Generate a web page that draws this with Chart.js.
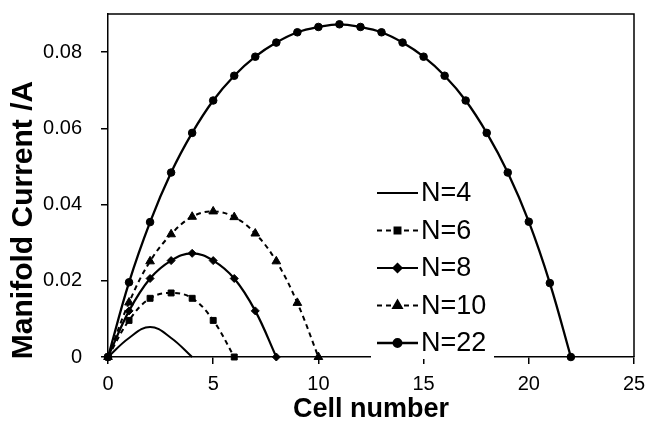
<!DOCTYPE html>
<html>
<head>
<meta charset="utf-8">
<script src="https://cdn.jsdelivr.net/npm/chart.js@4"></script>
<style>
  html, body { margin: 0; padding: 0; background: #fff; }
  #wrap { width: 645px; height: 422px; position: relative; }
</style>
</head>
<body>
<div id="wrap"><canvas id="chart"></canvas></div>
<script>
// values (current in A, index = cell number)
const seriesNames = ['N=4', 'N=6', 'N=8', 'N=10', 'N=22'];
const currentN4 = [0, 0.0050, 0.0079, 0.0050, 0];
const currentN6 = [0, 0.0096, 0.0154, 0.0168, 0.0154, 0.0096, 0];
const currentN8 = [0, 0.0121, 0.0206, 0.0253, 0.0272, 0.0253, 0.0206, 0.0121, 0];
const currentN10 = [0, 0.0143, 0.0251, 0.0322, 0.0368, 0.0382, 0.0367, 0.0324, 0.0251, 0.0142, 0];
const currentN22 = [0, 0.0196, 0.0354, 0.0484, 0.0588, 0.0673, 0.0738, 0.0788, 0.0825, 0.0852, 0.0866, 0.0873,
  0.0866, 0.0852, 0.0825, 0.0788, 0.0738, 0.0673, 0.0588, 0.0484, 0.0355, 0.0194, 0];
const xTicks = [0, 5, 10, 15, 20, 25];
const yTicks = [0, 0.02, 0.04, 0.06, 0.08];

function pts(arr) {
  return arr.map((v, i) => ({ x: i, y: v }));
}

function series(label, values, style, radius, dash, width) {
  return {
    label: label,
    data: pts(values),
    borderColor: '#000',
    backgroundColor: '#000',
    borderWidth: width,
    borderDash: dash,
    pointStyle: style,
    pointRadius: radius,
    pointHoverRadius: radius,
    pointBorderWidth: 1,
    tension: 0.4,
    clip: false
  };
}

const datasets = [
  series(seriesNames[0], currentN4, false, 0, [], 2),
  series(seriesNames[1], currentN6, 'rect', 4.2, [5, 4], 2),
  series(seriesNames[2], currentN8, 'rectRot', 4, [], 2.2),
  series(seriesNames[3], currentN10, 'triangle', 5, [5, 4], 2),
  series(seriesNames[4], currentN22, 'circle', 3.8, [], 2.3)
];

const boxPlugin = {
  id: 'box',
  afterDraw(chart) {
    const { ctx, chartArea: a } = chart;
    ctx.save();
    ctx.strokeStyle = '#000';
    ctx.lineWidth = 1.5;
    ctx.beginPath();
    ctx.moveTo(a.left, a.top);
    ctx.lineTo(a.right, a.top);
    ctx.lineTo(a.right, a.bottom);
    ctx.stroke();

    // legend inside the plot, white box covers the axis line as in the figure
    ctx.fillStyle = '#fff';
    ctx.fillRect(371, 172, 123, 187);
    const x0 = 377, x1 = 418, rowTop = 193, rowGap = 37.5;
    chart.data.datasets.forEach((ds, i) => {
      const y = rowTop + i * rowGap;
      ctx.strokeStyle = '#000';
      ctx.lineWidth = ds.borderWidth;
      ctx.setLineDash(ds.borderDash);
      ctx.beginPath();
      ctx.moveTo(x0, y);
      ctx.lineTo(x1, y);
      ctx.stroke();
      ctx.setLineDash([]);
      if (ds.pointStyle) {
        ctx.fillStyle = '#000';
        Chart.helpers.drawPoint(ctx, { pointStyle: ds.pointStyle, radius: ds.pointRadius, borderWidth: 1 }, (x0 + x1) / 2, y);
      }
      ctx.fillStyle = '#000';
      ctx.font = '27px "Liberation Sans", Arial, sans-serif';
      ctx.textAlign = 'left';
      ctx.textBaseline = 'middle';
      ctx.fillText(ds.label, x1 + 3, y + 1);
    });

    // axis titles
    ctx.fillStyle = '#000';
    ctx.font = 'bold 27px "Liberation Sans", Arial, sans-serif';
    ctx.textAlign = 'center';
    ctx.textBaseline = 'middle';
    ctx.fillText('Cell number', (a.left + a.right) / 2, 410);
    ctx.save();
    ctx.translate(24, 220);
    ctx.rotate(-Math.PI / 2);
    ctx.font = 'bold 30px "Liberation Sans", Arial, sans-serif';
    ctx.fillText('Manifold Current /A', 0, 0);
    ctx.restore();
    ctx.restore();
  }
};

new Chart(document.getElementById('chart'), {
  type: 'line',
  data: { datasets: datasets },
  options: {
    responsive: true,
    maintainAspectRatio: false,
    animation: false,
    layout: { padding: { top: 14, right: 11, left: 0, bottom: 0 } },
    plugins: { legend: { display: false }, tooltip: { enabled: false } },
    scales: {
      x: {
        type: 'linear',
        min: 0,
        max: 25,
        afterFit(s) { s.height = 65; s.paddingLeft = 0; s.paddingRight = 0; },
        afterBuildTicks(s) { s.ticks = xTicks.map(v => ({ value: v })); },
        grid: { display: true, drawOnChartArea: false, tickLength: 7, color: '#000', lineWidth: 1.5 },
        border: { display: true, color: '#000', width: 1.5 },
        ticks: { color: '#000', padding: 8, font: { family: '"Liberation Sans", Arial', size: 20 } }
      },
      y: {
        type: 'linear',
        min: 0,
        max: 0.09,
        afterFit(s) { s.width = 108; s.paddingTop = 0; s.paddingBottom = 0; },
        afterBuildTicks(s) { s.ticks = yTicks.map(v => ({ value: v })); },
        grid: { display: true, drawOnChartArea: false, tickLength: 7, color: '#000', lineWidth: 1.5 },
        border: { display: true, color: '#000', width: 1.5 },
        ticks: {
          color: '#000',
          padding: 19,
          font: { family: '"Liberation Sans", Arial', size: 20 },
          callback: v => v === 0 ? '0' : v.toFixed(2)
        }
      }
    }
  },
  plugins: [boxPlugin]
});
</script>
</body>
</html>
